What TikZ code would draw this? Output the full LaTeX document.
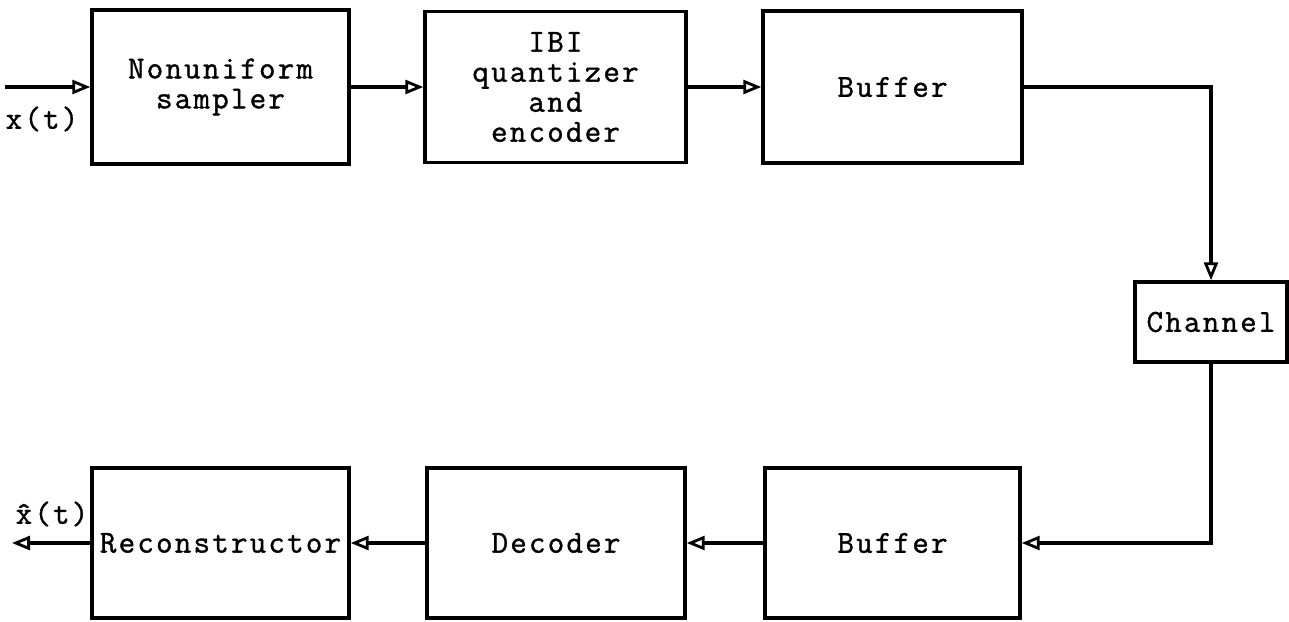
\documentclass[tikz,border=0pt]{standalone}
\usepackage{fontspec}
\setmonofont{Latin Modern Mono}[LetterSpace=7,FakeBold=1.2]
\usetikzlibrary{arrows.meta,calc}
\begin{document}
\begin{tikzpicture}[x=0.5pt,y=-0.5pt,
  txt/.style={font=\ttfamily\fontsize{16}{15}\selectfont},
  blk/.style={draw,line width=1.7pt,inner sep=0pt,align=center,txt},
  conn/.style={line width=1.6pt,-{Triangle[open,length=9pt,width=7pt,line width=1.4pt]}},
  wire/.style={line width=1.6pt}]
\useasboundingbox (0,0) rectangle (1289,621);
\node[blk,minimum width=128.5pt,minimum height=77pt] (b1) at (220.5,87) {Nonuniform\\ sampler};
\node[blk,minimum width=130.5pt,minimum height=75.5pt] (b2) at (555.5,87) {IBI\\quantizer\\ and\\ encoder};
\node[blk,minimum width=129.5pt,minimum height=76pt] (b3) at (892.5,87) {Buffer};
\node[blk,minimum width=76pt,minimum height=40pt] (chan) at (1211,322) {Channel};
\node[blk,minimum width=127.5pt,minimum height=75pt] (bufb) at (892.5,543) {Buffer};
\node[blk,minimum width=129pt,minimum height=75pt] (dec) at (556,543) {Decoder};
\node[blk,minimum width=128.5pt,minimum height=75pt] (rec) at (220.5,543) {Reconstructor};
\coordinate (in) at (5,87);
\coordinate (out) at (12,543);
\node[txt] (xl) at (42,119) {x(t)};
\node[txt] (xh) at (52,514) {\^{x}(t)};
\draw[conn] (in) -- (b1.west);
\draw[conn] (b1.east) -- (b2.west);
\draw[conn] (b2.east) -- (b3.west);
\draw[conn] (b3.east) -| (chan.north);
\draw[conn] (chan.south) |- (bufb.east);
\draw[conn] (bufb.west) -- (dec.east);
\draw[conn] (dec.west) -- (rec.east);
\draw[conn] (rec.west) -- (out);
\end{tikzpicture}
\end{document}
